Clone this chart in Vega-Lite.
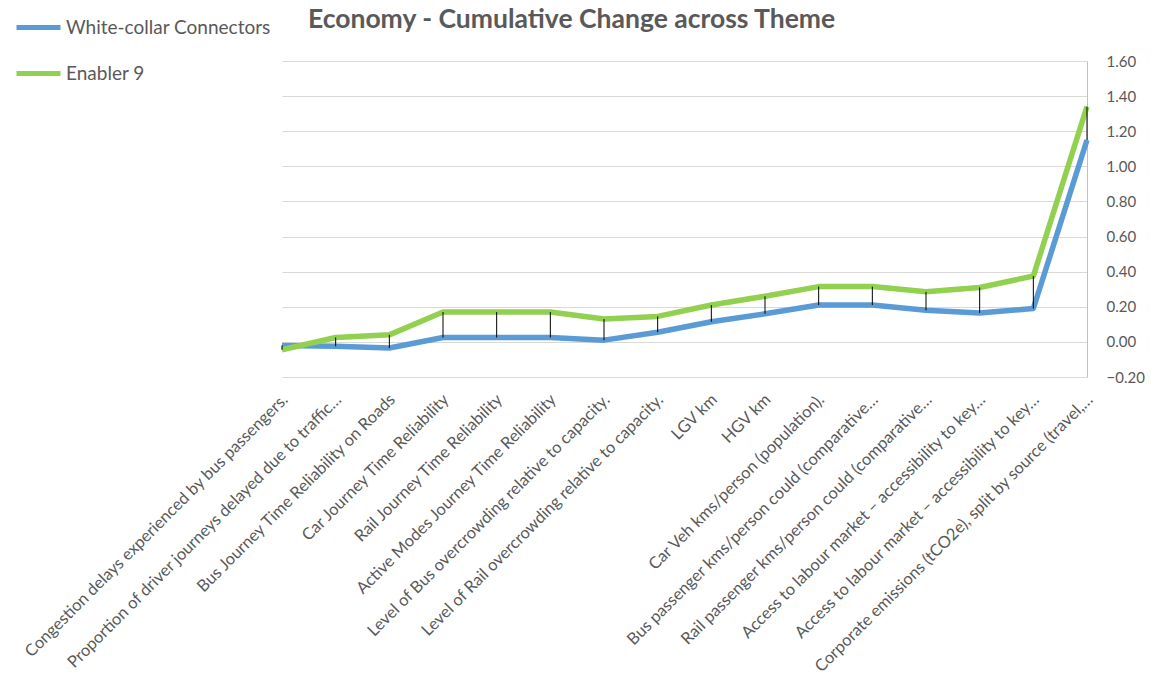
{
  "$schema": "https://vega.github.io/schema/vega-lite/v6.json",
  "width": 805,
  "height": 316,
  "autosize": {"type": "none"},
  "padding": {"left": 282, "top": 61, "right": 64, "bottom": 305},
  "background": "white",
  "title": {
    "text": "Economy - Cumulative Change across Theme",
    "anchor": "start",
    "frame": "group",
    "dx": 26,
    "offset": -51,
    "baseline": "alphabetic",
    "font": "Lato",
    "fontSize": 26.5,
    "fontWeight": "bold",
    "color": "#595959"
  },
  "config": {
    "view": {"stroke": null},
    "font": "Lato"
  },
  "data": {
    "values": [
      {"category": "Congestion delays experienced by bus passengers.", "series": "White-collar Connectors", "value": -0.02},
      {"category": "Proportion of driver journeys delayed due to traffic…", "series": "White-collar Connectors", "value": -0.025},
      {"category": "Bus Journey Time Reliability on Roads", "series": "White-collar Connectors", "value": -0.035},
      {"category": "Car Journey Time Reliability", "series": "White-collar Connectors", "value": 0.025},
      {"category": "Rail Journey Time Reliability", "series": "White-collar Connectors", "value": 0.025},
      {"category": "Active Modes Journey Time Reliability", "series": "White-collar Connectors", "value": 0.025},
      {"category": "Level of Bus overcrowding relative to capacity.", "series": "White-collar Connectors", "value": 0.01},
      {"category": "Level of Rail overcrowding relative to capacity.", "series": "White-collar Connectors", "value": 0.055},
      {"category": "LGV km", "series": "White-collar Connectors", "value": 0.115},
      {"category": "HGV km", "series": "White-collar Connectors", "value": 0.16},
      {"category": "Car Veh kms/person (population).", "series": "White-collar Connectors", "value": 0.21},
      {"category": "Bus passenger kms/person could (comparative…", "series": "White-collar Connectors", "value": 0.21},
      {"category": "Rail passenger kms/person could (comparative…", "series": "White-collar Connectors", "value": 0.18},
      {"category": "Access to labour market – accessibility to key…", "series": "White-collar Connectors", "value": 0.165},
      {"category": "Access to labour market – accessibility to key… ", "series": "White-collar Connectors", "value": 0.19},
      {"category": "Corporate emissions (tCO2e), split by source (travel,…", "series": "White-collar Connectors", "value": 1.15},
      {"category": "Congestion delays experienced by bus passengers.", "series": "Enabler 9", "value": -0.045},
      {"category": "Proportion of driver journeys delayed due to traffic…", "series": "Enabler 9", "value": 0.025},
      {"category": "Bus Journey Time Reliability on Roads", "series": "Enabler 9", "value": 0.04},
      {"category": "Car Journey Time Reliability", "series": "Enabler 9", "value": 0.17},
      {"category": "Rail Journey Time Reliability", "series": "Enabler 9", "value": 0.17},
      {"category": "Active Modes Journey Time Reliability", "series": "Enabler 9", "value": 0.17},
      {"category": "Level of Bus overcrowding relative to capacity.", "series": "Enabler 9", "value": 0.13},
      {"category": "Level of Rail overcrowding relative to capacity.", "series": "Enabler 9", "value": 0.145},
      {"category": "LGV km", "series": "Enabler 9", "value": 0.21},
      {"category": "HGV km", "series": "Enabler 9", "value": 0.26},
      {"category": "Car Veh kms/person (population).", "series": "Enabler 9", "value": 0.315},
      {"category": "Bus passenger kms/person could (comparative…", "series": "Enabler 9", "value": 0.315},
      {"category": "Rail passenger kms/person could (comparative…", "series": "Enabler 9", "value": 0.285},
      {"category": "Access to labour market – accessibility to key…", "series": "Enabler 9", "value": 0.31},
      {"category": "Access to labour market – accessibility to key… ", "series": "Enabler 9", "value": 0.375},
      {"category": "Corporate emissions (tCO2e), split by source (travel,…", "series": "Enabler 9", "value": 1.34}
    ]
  },
  "encoding": {
    "x": {
      "field": "category",
      "type": "nominal",
      "sort": null,
      "scale": {"type": "point", "padding": 0},
      "axis": {
        "title": null,
        "labelAngle": -45,
        "labelFont": "Lato",
        "labelFontSize": 16.5,
        "labelColor": "#595959",
        "labelLimit": 0,
        "labelPadding": 14,
        "labelOffset": -3,
        "labelOverlap": false,
        "domain": false,
        "ticks": false,
        "grid": false
      }
    }
  },
  "layer": [
    {
      "mark": {"type": "line", "strokeWidth": 5.5, "strokeJoin": "round"},
      "transform": [{"filter": "datum.series === 'White-collar Connectors'"}],
      "encoding": {
        "y": {
          "field": "value",
          "type": "quantitative",
          "scale": {"domain": [-0.2, 1.6], "nice": false, "zero": false},
          "axis": {
            "orient": "right",
            "title": null,
            "values": [-0.2, 0, 0.2, 0.4, 0.6, 0.8, 1.0, 1.2, 1.4, 1.6],
            "tickCount": 10,
            "format": ".2f",
            "labelFont": "Lato",
            "labelFontSize": 15,
            "labelColor": "#595959",
            "labelPadding": 19,
            "labelOverlap": false,
            "labelBound": false,
            "ticks": false,
            "domainColor": "#A9C6E6",
            "domainWidth": 1,
            "grid": true,
            "gridColor": "#D9D9D9",
            "gridWidth": 1
          }
        },
        "color": {
          "field": "series",
          "type": "nominal",
          "scale": {"domain": ["White-collar Connectors", "Enabler 9"], "range": ["#5B9BD5", "#92D050"]},
          "legend": {
            "title": null,
            "orient": "none",
            "legendX": -268,
            "legendY": -58,
            "symbolType": "stroke",
            "symbolSize": 1936,
            "symbolStrokeWidth": 5,
            "labelFont": "Lato",
            "labelFontSize": 19,
            "labelColor": "#595959",
            "labelOffset": 3,
            "labelLimit": 0,
            "rowPadding": 11
          }
        }
      }
    },
    {
      "mark": {"type": "line", "strokeWidth": 5.5, "strokeJoin": "round"},
      "transform": [{"filter": "datum.series === 'Enabler 9'"}],
      "encoding": {
        "y": {"field": "value", "type": "quantitative"},
        "color": {"field": "series", "type": "nominal"}
      }
    },
    {
      "mark": {"type": "rule", "color": "#000000", "strokeWidth": 1},
      "transform": [
        {"aggregate": [{"op": "min", "field": "value", "as": "lo"}, {"op": "max", "field": "value", "as": "hi"}], "groupby": ["category"]}
      ],
      "encoding": {
        "y": {"field": "lo", "type": "quantitative"},
        "y2": {"field": "hi"}
      }
    }
  ]
}
